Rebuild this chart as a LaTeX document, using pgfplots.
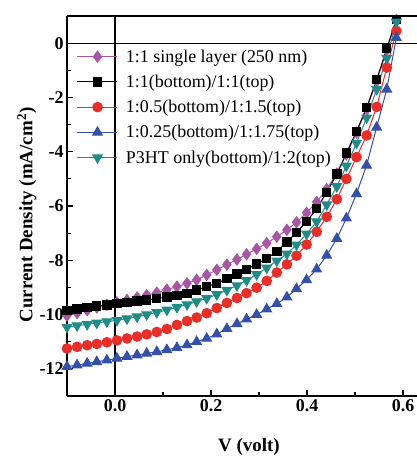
\documentclass[border=0pt]{standalone}
\usepackage{pgfplots}
\usepackage{pgfplotstable}
\pgfplotsset{compat=1.18}
\usepackage{fontspec}
\setmainfont{Liberation Serif}
\definecolor{cP}{RGB}{168,85,165}
\definecolor{cR}{RGB}{235,45,40}
\definecolor{cB}{RGB}{52,80,170}
\definecolor{cT}{RGB}{30,140,135}

\pgfplotstableread{
V P K R B T
-0.100 -10.04 -9.85 -11.25 -11.92 -10.46
-0.079 -9.94 -9.80 -11.19 -11.86 -10.41
-0.058 -9.84 -9.74 -11.13 -11.80 -10.36
-0.038 -9.74 -9.69 -11.08 -11.74 -10.31
-0.017 -9.64 -9.64 -11.02 -11.68 -10.26
0.004 -9.55 -9.59 -10.95 -11.61 -10.21
0.025 -9.46 -9.55 -10.88 -11.55 -10.15
0.046 -9.37 -9.50 -10.81 -11.49 -10.08
0.066 -9.28 -9.46 -10.73 -11.43 -10.00
0.087 -9.19 -9.41 -10.64 -11.37 -9.92
0.108 -9.08 -9.36 -10.53 -11.30 -9.83
0.129 -8.97 -9.30 -10.38 -11.22 -9.73
0.150 -8.85 -9.22 -10.24 -11.12 -9.63
0.170 -8.72 -9.10 -10.11 -11.00 -9.52
0.191 -8.54 -8.97 -9.95 -10.88 -9.40
0.212 -8.35 -8.85 -9.76 -10.72 -9.26
0.233 -8.16 -8.67 -9.57 -10.52 -9.10
0.254 -7.97 -8.50 -9.39 -10.34 -8.93
0.274 -7.78 -8.33 -9.21 -10.17 -8.74
0.295 -7.58 -8.14 -9.01 -10.00 -8.52
0.316 -7.37 -7.93 -8.76 -9.80 -8.28
0.337 -7.13 -7.68 -8.45 -9.60 -8.02
0.358 -6.88 -7.33 -8.15 -9.36 -7.76
0.378 -6.60 -6.97 -7.83 -9.05 -7.43
0.399 -6.25 -6.58 -7.42 -8.72 -7.03
0.420 -5.85 -6.10 -6.95 -8.33 -6.58
0.441 -5.38 -5.50 -6.40 -7.82 -5.95
0.462 -4.80 -4.82 -5.75 -7.20 -5.28
0.482 -4.10 -4.05 -5.00 -6.45 -4.52
0.503 -3.30 -3.25 -4.20 -5.55 -3.68
0.524 -2.42 -2.38 -3.40 -4.50 -2.75
0.545 -1.40 -1.35 -2.35 -3.10 -1.70
0.566 -0.25 -0.20 -0.90 -1.70 -0.55
0.586 0.85 0.88 0.45 0.20 0.78
}\jv

\begin{document}
\begin{tikzpicture}
\begin{axis}[
  name=ax,
  scale only axis, width=350bp, height=380bp,
  xmin=-0.1, xmax=0.629, ymin=-13, ymax=1,
  axis x line*=bottom, axis y line*=left,
  axis line style={line width=1.5bp},
  tick align=inside,
  major tick length=6bp, minor tick length=4bp,
  every tick/.style={black, line width=1.2bp},
  xtick={0,0.2,0.4,0.6}, minor xtick={-0.1,0.1,0.3,0.5},
  ytick={-12,-10,-8,-6,-4,-2,0}, minor ytick={-13,-11,-9,-7,-5,-3,-1},
  /pgf/number format/assume math mode=true,
  xticklabel style={/pgf/number format/fixed, /pgf/number format/fixed zerofill, /pgf/number format/precision=1},
  ticklabel style={font=\bfseries\fontsize{18}{18}\selectfont},
  every axis x label/.style={at={(axis description cs:0.5,0)}, anchor=center, yshift=-51bp, xshift=7bp},
  every axis y label/.style={at={(axis description cs:0,0.5)}, rotate=90, anchor=center, yshift=40bp, xshift=-9bp},
  label style={font=\bfseries\fontsize{19}{19}\selectfont},
  xlabel={V (volt)},
  ylabel={Current Density (mA/cm\textsuperscript{2})},
  legend style={at={(rel axis cs:0.028,0.917)}, anchor=north west, draw=none, fill=none,
    font=\fontsize{18}{18}\selectfont, row sep=7.3bp, inner sep=0pt},
  legend cell align=left,
  legend image code/.code={\draw[mark repeat=2,mark phase=2] plot coordinates {(0bp,0bp)(20bp,0bp)(40bp,0bp)}; \path (46bp,0bp);},
  every axis plot/.append style={line width=1bp},
]
\draw[line width=1.2bp] (axis cs:0,-13) -- (axis cs:0,1);
\draw[line width=1.2bp] (axis cs:-0.1,0) -- (axis cs:0.629,0);
\addplot[cP, mark=diamond*, mark size=5.5bp] table[x=V,y=P]{\jv};
\addlegendentry{1:1 single layer (250 nm)}
\addplot[black, mark=square*, mark size=4.2bp] table[x=V,y=K]{\jv};
\addlegendentry{1:1(bottom)/1:1(top)}
\addplot[cR, mark=*, mark size=4.8bp] table[x=V,y=R]{\jv};
\addlegendentry{1:0.5(bottom)/1:1.5(top)}
\addplot[cB, mark=triangle*, mark size=5.5bp] table[x=V,y=B]{\jv};
\addlegendentry{1:0.25(bottom)/1:1.75(top)}
\addplot[cT, mark=triangle*, mark size=5.5bp, mark options={rotate=180}] table[x=V,y=T]{\jv};
\addlegendentry{P3HT only(bottom)/1:2(top)}
\end{axis}
\draw[line width=1.5bp] (ax.north west) -- (ax.north east);
\pgfresetboundingbox
\path[use as bounding box] ([xshift=-67bp,yshift=-64bp]ax.south west) rectangle ([yshift=16bp]ax.north east);
\end{tikzpicture}
\end{document}
